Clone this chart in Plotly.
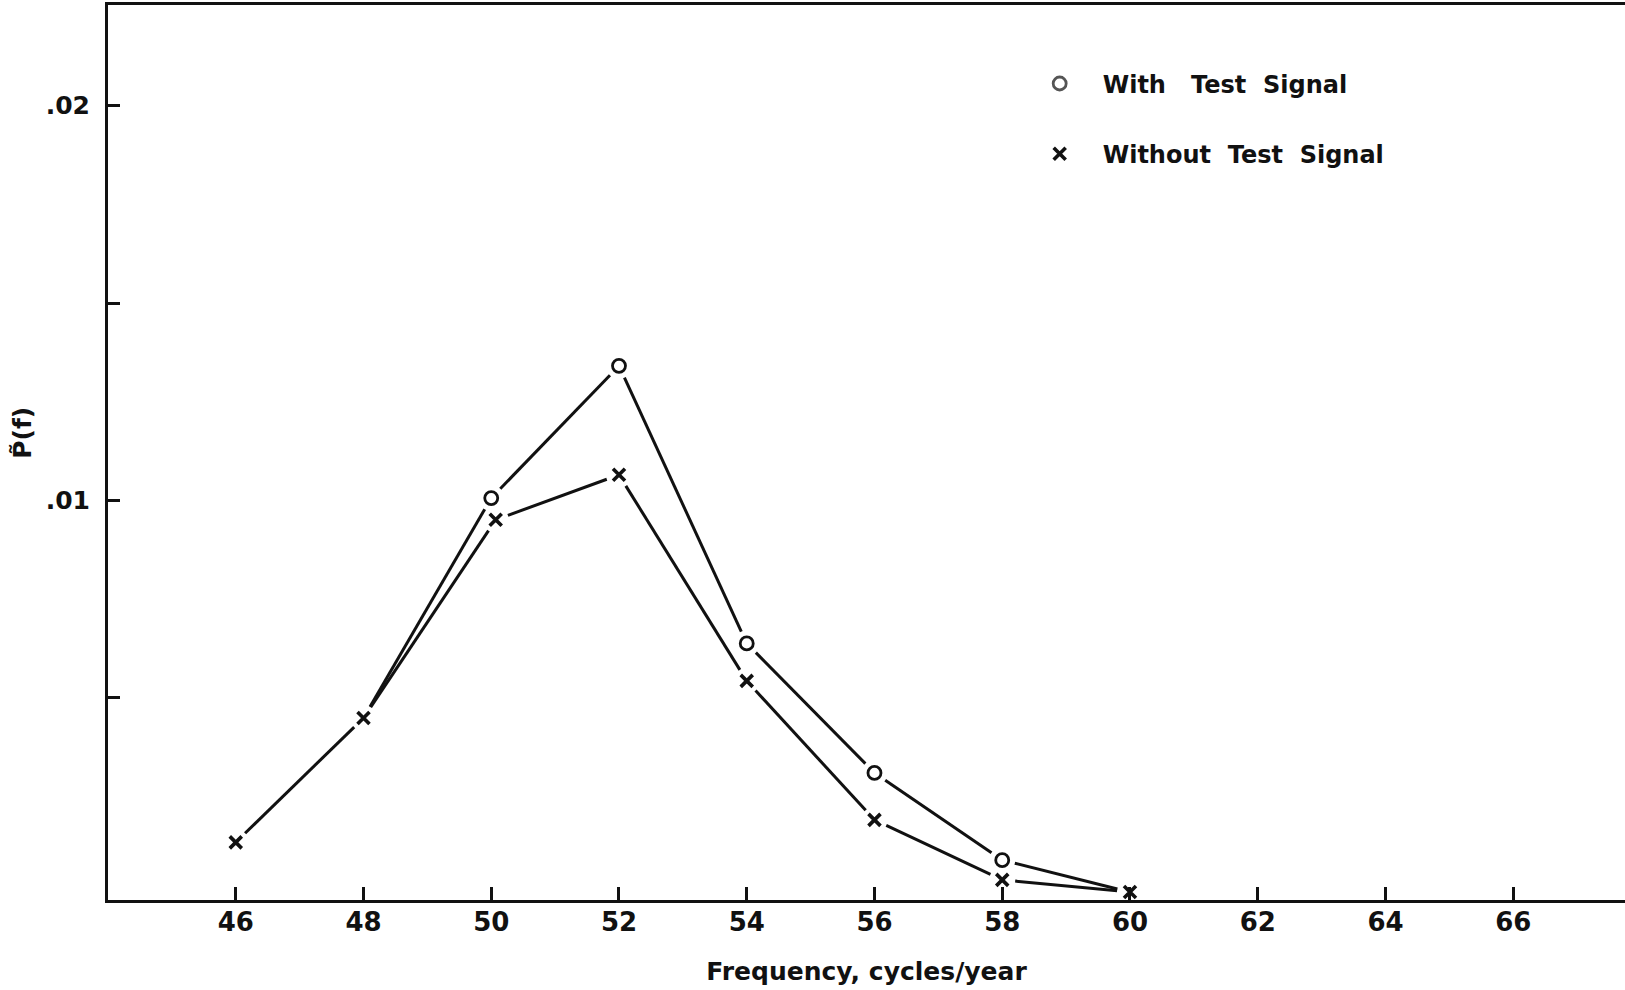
import math
import plotly.graph_objects as go

# Spectral estimate P~(f) near the annual cycle
freq_with = [48, 50, 52, 54, 56, 58, 60]
p_with = [0.00449, 0.01006, 0.01341, 0.00638, 0.00310, 0.00089, 0.00008]
# the end points coincide with the other curve and carry no circle
marker_show_with = [0, 1, 1, 1, 1, 1, 0]

freq_without = [46, 48, 50.07, 52, 54, 56, 58, 60]
p_without = [0.00134, 0.00449, 0.00951, 0.01065, 0.00543, 0.00191, 0.00039, 0.00008]

x_ticks = [46, 48, 50, 52, 54, 56, 58, 60, 62, 64, 66]
y_ticks = [0.005, 0.01, 0.015, 0.02]
y_ticktext = ["", ".01", "", ".02"]

X_RANGE = [44, 67.75]
Y_RANGE = [-0.00012, 0.02255]

W, H = 1625, 990
MARGIN = dict(l=108, r=0, t=5, b=90)
GAP_PX = 13  # pen lifted this far from each plotted point

INK = "#111111"
FONT = "DejaVu Sans"

# data units per screen pixel along each axis
PLOT_W = W - MARGIN["l"] - MARGIN["r"]
PLOT_H = H - MARGIN["t"] - MARGIN["b"]
UX = (X_RANGE[1] - X_RANGE[0]) / PLOT_W
UY = (Y_RANGE[1] - Y_RANGE[0]) / PLOT_H


def gapped_segments(xs, ys, gap=GAP_PX):
    """Split a polyline into segments that stop `gap` pixels short of each vertex."""
    out_x, out_y = [], []
    for (x0, y0), (x1, y1) in zip(zip(xs, ys), zip(xs[1:], ys[1:])):
        dxp, dyp = (x1 - x0) / UX, (y1 - y0) / UY
        length = math.hypot(dxp, dyp)
        if length <= 2 * gap:
            continue
        t = gap / length
        out_x += [x0 + (x1 - x0) * t, x1 - (x1 - x0) * t, None]
        out_y += [y0 + (y1 - y0) * t, y1 - (y1 - y0) * t, None]
    return out_x, out_y


fig = go.Figure()

for fx, py in [(freq_with, p_with), (freq_without, p_without)]:
    sx, sy = gapped_segments(fx, py)
    fig.add_trace(go.Scatter(x=sx, y=sy, mode="lines",
                             line=dict(color=INK, width=3),
                             showlegend=False, hoverinfo="skip"))

fig.add_trace(go.Scatter(
    x=freq_with, y=p_with, mode="markers",
    name="With\u00a0\u00a0 Test\u00a0 Signal", legendgroup="a",
    marker=dict(symbol="circle-open", size=13, color=INK,
                opacity=marker_show_with, line=dict(width=2.8, color=INK)),
))
fig.add_trace(go.Scatter(
    x=freq_without, y=p_without, mode="markers",
    name="Without\u00a0 Test\u00a0 Signal", legendgroup="b",
    marker=dict(symbol="x-thin", size=12, color=INK,
                line=dict(width=3.6, color=INK)),
))

axis_common = dict(showline=True, linecolor=INK, linewidth=3, showgrid=False,
                   zeroline=False, layer="above traces", tickcolor=INK,
                   tickwidth=2.5, ticks="inside")

fig.update_layout(
    width=W, height=H,
    margin=MARGIN,
    paper_bgcolor="white", plot_bgcolor="white",
    font=dict(family=FONT, color=INK, size=25),
    showlegend=True,
    legend=dict(x=0.599, y=0.937, xanchor="left", yanchor="top",
                bgcolor="rgba(0,0,0,0)", itemwidth=76, tracegroupgap=36,
                font=dict(family=FONT, size=24, color=INK, weight="bold")),
    xaxis=dict(range=X_RANGE, tickvals=x_ticks, ticklen=13, mirror=True,
               ticklabelstandoff=-3,
               tickfont=dict(family=FONT, size=26, color=INK, weight="bold"),
               title=dict(text="Frequency, cycles/year", standoff=27,
                          font=dict(family=FONT, size=25, color=INK, weight="bold")),
               **axis_common),
    yaxis=dict(range=Y_RANGE, tickvals=y_ticks, ticktext=y_ticktext,
               ticklen=12, mirror=False, ticklabelstandoff=10,
               tickfont=dict(family=FONT, size=25, color=INK, weight="bold"),
               **axis_common),
    annotations=[dict(text="P\u0303(f)", x=-0.056, y=0.522, xref="paper", yref="paper",
                      xanchor="center", yanchor="middle", textangle=-90,
                      showarrow=False,
                      font=dict(family=FONT, size=25, color=INK, weight="bold"))],
)

fig.write_html("out.html")
